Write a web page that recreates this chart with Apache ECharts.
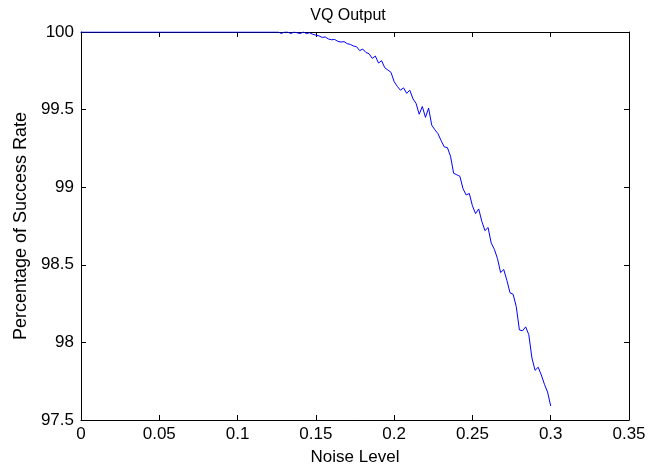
<!DOCTYPE html>
<html>
<head>
<meta charset="utf-8">
<script src="https://cdn.jsdelivr.net/npm/echarts@6/dist/echarts.min.js"></script>
<style>
html,body{margin:0;padding:0;background:#fff;}
#chart{width:665px;height:467px;}
</style>
</head>
<body>
<div id="chart"></div>
<script>
var titleText = 'VQ Output';
var xName = 'Noise Level';
var yName = 'Percentage of Success Rate';

var noiseLevel = [
  0, 0.124, 0.126, 0.128, 0.130, 0.132, 0.134, 0.136, 0.138, 0.140, 0.142, 0.144, 0.146, 0.148, 0.150,
  0.152, 0.154, 0.156, 0.158, 0.160, 0.162, 0.164, 0.166, 0.168, 0.170,
  0.172, 0.174, 0.176, 0.178, 0.180, 0.182, 0.184, 0.186, 0.188, 0.190,
  0.192, 0.194, 0.196, 0.198, 0.200, 0.202, 0.204, 0.206, 0.208, 0.210,
  0.212, 0.214, 0.216, 0.218, 0.220, 0.222, 0.224, 0.226, 0.228, 0.230,
  0.232, 0.234, 0.236, 0.238, 0.240, 0.242, 0.244, 0.246, 0.248, 0.250,
  0.252, 0.254, 0.256, 0.258, 0.260, 0.262, 0.264, 0.266, 0.268, 0.270,
  0.272, 0.274, 0.276, 0.278, 0.280, 0.282, 0.284, 0.286, 0.288, 0.290,
  0.292, 0.294, 0.296, 0.298, 0.300
];
var successRate = [
  100, 100, 100, 99.99, 100, 100, 99.99, 100, 99.995, 99.99, 100, 99.99, 99.995, 99.985, 99.98,
  99.975, 99.965, 99.968, 99.955, 99.950, 99.952, 99.940, 99.935, 99.938, 99.925,
  99.920, 99.910, 99.905, 99.880, 99.890, 99.868, 99.860, 99.830, 99.845, 99.800,
  99.815, 99.770, 99.755, 99.740, 99.680, 99.650, 99.625, 99.640, 99.605, 99.625,
  99.570, 99.540, 99.470, 99.520, 99.450, 99.510, 99.400, 99.370, 99.345, 99.300,
  99.260, 99.255, 99.200, 99.090, 99.080, 99.070, 98.990, 98.950, 98.960, 98.880,
  98.830, 98.860, 98.780, 98.720, 98.740, 98.640, 98.600, 98.540, 98.450, 98.470,
  98.400, 98.320, 98.310, 98.230, 98.080, 98.075, 98.100, 98.050, 97.900, 97.820,
  97.840, 97.790, 97.730, 97.680, 97.590
];

var points = noiseLevel.map(function (x, i) { return [x, successRate[i]]; });

var FONT = 'Liberation Sans, Arial, sans-serif';
var axisLineStyle = { color: '#000', width: 1 };

function xAx(top) {
  return {
    type: 'value', min: 0, max: 0.35, interval: 0.05,
    position: top ? 'top' : 'bottom',
    axisLine: { show: true, onZero: false, lineStyle: axisLineStyle },
    axisTick: { show: true, inside: true, length: 5, lineStyle: axisLineStyle },
    axisLabel: { show: !top, color: '#000', fontSize: 17, fontFamily: FONT, margin: 6 },
    splitLine: { show: false },
    name: top ? '' : xName,
    nameLocation: 'middle', nameGap: 29,
    nameTextStyle: { color: '#000', fontSize: 17, fontFamily: FONT }
  };
}
function yAx(right) {
  return {
    type: 'value', min: 97.5, max: 100, interval: 0.5,
    position: right ? 'right' : 'left',
    axisLine: { show: true, onZero: false, lineStyle: axisLineStyle },
    axisTick: { show: true, inside: true, length: 5, lineStyle: axisLineStyle },
    axisLabel: { show: !right, color: '#000', fontSize: 17, fontFamily: FONT, margin: 7 },
    splitLine: { show: false },
    name: right ? '' : yName,
    nameLocation: 'middle', nameGap: 46, nameRotate: 90,
    nameTextStyle: { color: '#000', fontSize: 18, fontFamily: FONT }
  };
}

var chart = echarts.init(document.getElementById('chart'), null, { renderer: 'canvas' });
chart.setOption({
  backgroundColor: '#fff',
  animation: false,
  title: {
    text: titleText, left: 343, top: 3, textAlign: 'center',
    textStyle: { color: '#000', fontSize: 16, fontWeight: 'normal', fontFamily: FONT }
  },
  grid: { left: 81, right: 36, top: 32, bottom: 47, containLabel: false, outerBoundsMode: 'none' },
  xAxis: [xAx(false), xAx(true)],
  yAxis: [yAx(false), yAx(true)],
  series: [{
    type: 'line', xAxisIndex: 0, yAxisIndex: 0,
    data: points, showSymbol: false, symbol: 'none',
    lineStyle: { color: '#0000ff', width: 1 },
    clip: true
  }]
});
</script>
</body>
</html>
